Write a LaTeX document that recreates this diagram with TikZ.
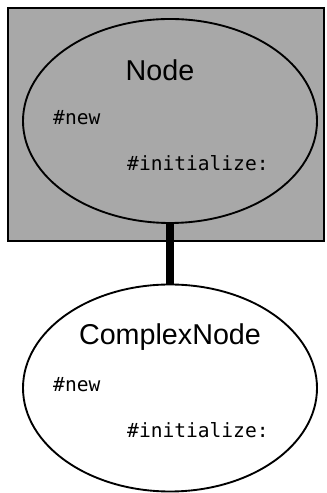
\documentclass[tikz,border=0pt]{standalone}
\usepackage{fontspec}
\setmainfont{Liberation Sans}
\setmonofont{DejaVu Sans Mono}
\usepackage{xcolor}
\usetikzlibrary{shapes.geometric}

\definecolor{shade}{RGB}{168,168,168}

\tikzset{
  classnode/.style={ellipse, draw, line width=1.6pt, minimum width=8.82cm},
  classname/.style={font=\fontsize{24.5}{28}\selectfont, inner sep=0pt},
  method/.style={font=\ttfamily\fontsize{16.7}{20}\selectfont, anchor=west, inner sep=0pt}
}

\begin{document}
\begin{tikzpicture}
    \useasboundingbox (0, 0) rectangle (9.78, 14.79);

    % Shaded frame around the superclass
    \filldraw[fill=shade, line width=1.6pt] (0.24, 7.56) rectangle (9.72, 14.55);

    % Class ellipses
    \node[classnode, fill=shade, minimum height=6.12cm] (node) at (5.1, 11.16) {};
    \node[classnode, fill=white, minimum height=6.21cm] (complex) at (5.1, 3.15) {};

    % Inheritance link
    \draw[line width=0.24cm] (node.south) -- (complex.north);

    % Labels of Node
    \node[classname] (nodetitle) at (4.8, 12.69) {Node};
    \node[method] (nodenew) at (1.59, 11.25) {\#new};
    \node[method] (nodeinit) at (3.81, 9.9) {\#initialize:};

    % Labels of ComplexNode
    \node[classname] (complextitle) at (5.1, 4.68) {ComplexNode};
    \node[method] (complexnew) at (1.59, 3.24) {\#new};
    \node[method] (complexinit) at (3.81, 1.89) {\#initialize:};
\end{tikzpicture}
\end{document}
